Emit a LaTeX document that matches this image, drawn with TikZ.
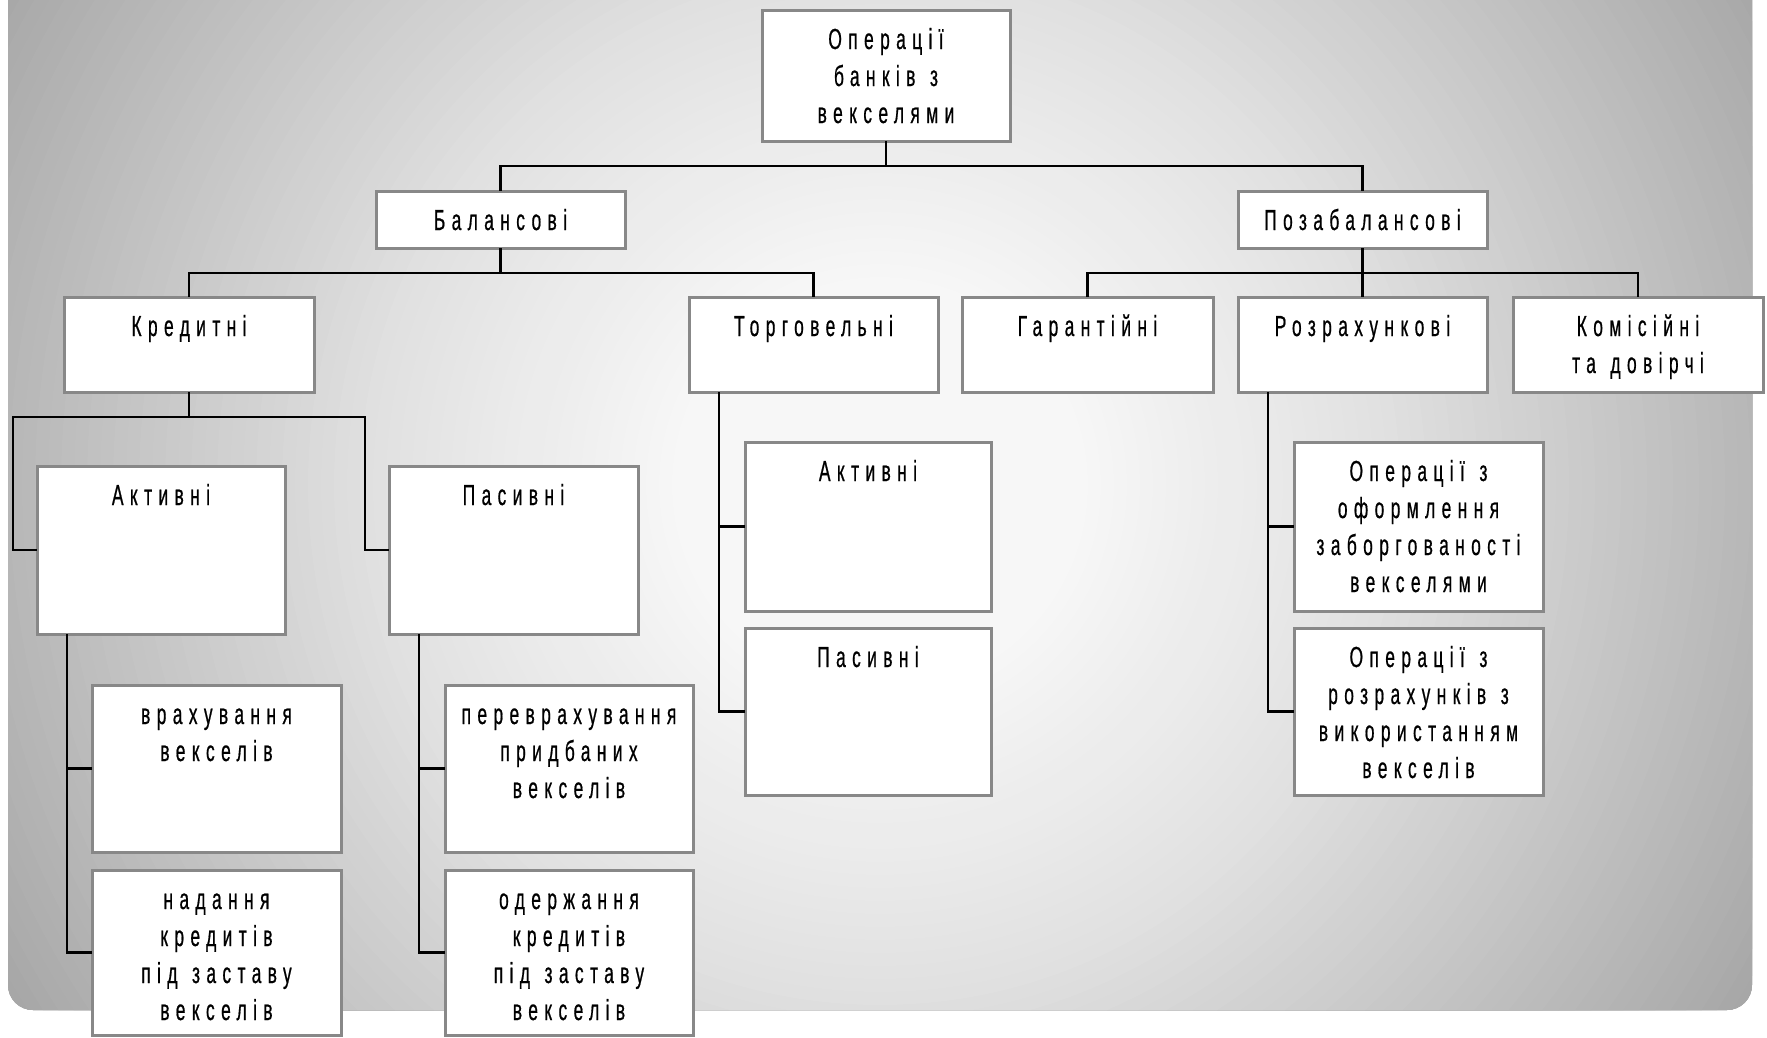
\documentclass[tikz,border=0pt]{standalone}
\usepackage{fontspec}
\setmainfont{Liberation Sans}[FakeStretch=0.6,LetterSpace=22,FakeBold=0.6,WordSpace=1.3]
\usetikzlibrary{calc}
\definecolor{bordergray}{HTML}{888888}
\newcommand{\bxt}[3]{\parbox[c][#2pt][t]{#1pt}{\centering\rule{0pt}{39pt}#3\par}}
\tikzset{
  box/.style={draw=bordergray, fill=white, line width=3pt, inner sep=0pt, outer sep=0pt, anchor=north west, font=\fontsize{29}{37}\selectfont},
  conn/.style={draw=black, line width=2.5pt}
}
\begin{document}
\begin{tikzpicture}[x=1pt,y=-1pt]
\useasboundingbox (0,0) rectangle (1767,1037);
\begin{scope}
\clip[rounded corners=25pt] (8,-40) rectangle (1752,1010);
\foreach \i in {80,...,1} {
  \pgfmathsetmacro\r{\i*13}
  \pgfmathsetmacro\g{\r<200 ? 0.969 : (\r<500 ? 0.969-(\r-200)/300*0.083 : (\r<870 ? 0.886-(\r-500)/370*0.164 : 0.722-(\r-870)/170*0.08))}
  \definecolor{bgtmp}{gray}{\g}
  \fill[bgtmp] (880,485) circle[radius=\r];
}
\end{scope}

\node[box] (top) at (762,10) {\bxt{248}{131}{Операції\\банків з\\векселями}};
\node[box] (bal) at (376,191) {\bxt{249}{57}{Балансові}};
\node[box] (poz) at (1238,191) {\bxt{249}{57}{Позабалансові}};
\node[box] (kred) at (64,297) {\bxt{250}{95}{Кредитні}};
\node[box] (torg) at (689,297) {\bxt{249}{95}{Торговельні}};
\node[box] (gar) at (962,297) {\bxt{251}{95}{Гарантійні}};
\node[box] (rozr) at (1238,297) {\bxt{249}{95}{Розрахункові}};
\node[box] (kom) at (1513,297) {\bxt{250}{95}{Комісійні\\та довірчі}};
\node[box] (aktK) at (37,466) {\bxt{248}{168}{Активні}};
\node[box] (pasK) at (389,466) {\bxt{249}{168}{Пасивні}};
\node[box] (vrakh) at (92,685) {\bxt{249}{167}{врахування\\векселів}};
\node[box] (nadan) at (92,870) {\bxt{249}{165}{надання\\кредитів\\під заставу\\векселів}};
\node[box] (perev) at (445,685) {\bxt{248}{167}{переврахування\\придбаних\\векселів}};
\node[box] (oderzh) at (445,870) {\bxt{248}{165}{одержання\\кредитів\\під заставу\\векселів}};
\node[box] (aktT) at (745,442) {\bxt{246}{169}{Активні}};
\node[box] (pasT) at (745,628) {\bxt{246}{167}{Пасивні}};
\node[box] (op1) at (1294,442) {\bxt{249}{169}{Операції з\\оформлення\\заборгованості\\векселями}};
\node[box] (op2) at (1294,628) {\bxt{249}{167}{Операції з\\розрахунків з\\використанням\\векселів}};

\draw[conn] (top.south) -- ++(0,25) -| (bal.north);
\draw[conn] (top.south) -- ++(0,25) -| (poz.north);
\draw[conn] (bal.south) -- ++(0,25) -| (kred.north);
\draw[conn] (bal.south) -- ++(0,25) -| (torg.north);
\draw[conn] (poz.south) -- (rozr.north);
\draw[conn] (poz.south) -- ++(0,25) -| (gar.north);
\draw[conn] (poz.south) -- ++(0,25) -| (kom.north);
\draw[conn] (kred.south) -- ++(0,25) -| ([xshift=-24pt]aktK.west) -- (aktK.west);
\draw[conn] (kred.south) -- ++(0,25) -| ([xshift=-24pt]pasK.west) -- (pasK.west);
\draw[conn] ([xshift=30pt]aktK.south west) |- (vrakh.west);
\draw[conn] ([xshift=30pt]aktK.south west) |- (nadan.west);
\draw[conn] ([xshift=30pt]pasK.south west) |- (perev.west);
\draw[conn] ([xshift=30pt]pasK.south west) |- (oderzh.west);
\draw[conn] ([xshift=30pt]torg.south west) |- (aktT.west);
\draw[conn] ([xshift=30pt]torg.south west) |- (pasT.west);
\draw[conn] ([xshift=30pt]rozr.south west) |- (op1.west);
\draw[conn] ([xshift=30pt]rozr.south west) |- (op2.west);
\end{tikzpicture}
\end{document}
